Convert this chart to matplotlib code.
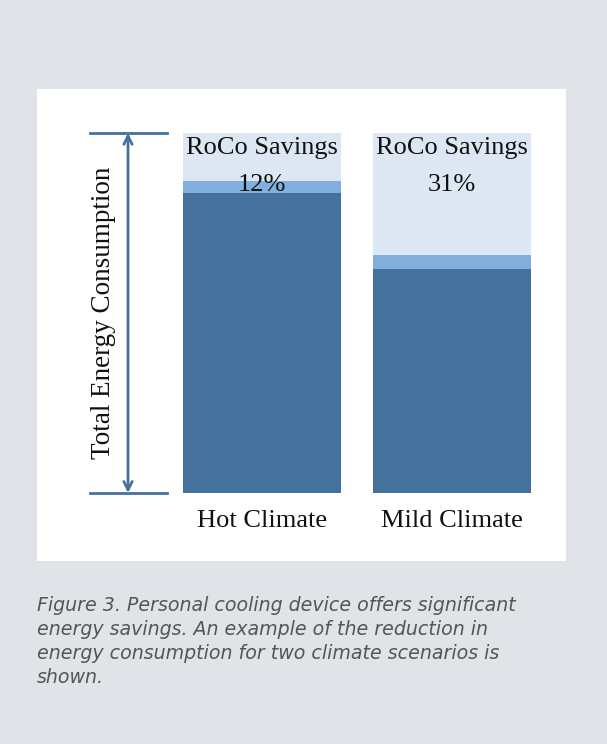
import matplotlib
matplotlib.use("Agg")
import matplotlib.pyplot as plt

# data (percent of total energy consumption)
climates = ["Hot Climate", "Mild Climate"]
base_use = [83.4, 62.2]        # dark part
device_use = [3.3, 3.9]        # thin mid-blue band (cooling device)
savings = [12, 31]             # label values
total = [100, 100]

dark = "#44729d"
mid = "#82b0de"
light = "#dce7f3"
bg = "#e0e4e8"

W, H = 607, 744
fig = plt.figure(figsize=(W / 100, H / 100), dpi=100)
fig.patch.set_facecolor(bg)

# white panel as the axes
left, right, top, bottom = 37, 566, 89, 561
ax = fig.add_axes([left / W, 1 - bottom / H, (right - left) / W, (bottom - top) / H])
ax.set_facecolor("white")
for s in ax.spines.values():
    s.set_visible(False)
ax.set_xticks([])
ax.set_yticks([])
ax.set_xlim(-1.184, 1.6)
ax.set_ylim(-18.9, 112.2)

x = list(range(len(climates)))
bw = 0.832
rest = [t - b - d for t, b, d in zip(total, base_use, device_use)]
ax.bar(x, base_use, width=bw, color=dark, linewidth=0)
ax.bar(x, device_use, width=bw, bottom=base_use, color=mid, linewidth=0)
ax.bar(x, rest, width=bw, bottom=[b + d for b, d in zip(base_use, device_use)],
       color=light, linewidth=0)

serif = "Liberation Serif"
for i, s in enumerate(savings):
    ax.text(i, 94.2, "RoCo Savings", ha="center", va="baseline",
            fontsize=19, family=serif, color="#111111")
    ax.text(i, 83.9, "%d%%" % s, ha="center", va="baseline",
            fontsize=19, family=serif, color="#111111")
    ax.text(i, -9.4, climates[i], ha="center", va="baseline",
            fontsize=19, family=serif, color="#111111")

# double arrow showing total consumption
ax.plot([-0.905, -0.5], [100, 100], color=dark, lw=2)
ax.plot([-0.905, -0.5], [0, 0], color=dark, lw=2)
ax.annotate("", xy=(-0.705, 100), xytext=(-0.705, 0),
            arrowprops=dict(arrowstyle="<->,head_length=0.6,head_width=0.3",
                            color=dark, lw=2, shrinkA=0, shrinkB=0))
ax.text(-0.833, 50, "Total Energy Consumption", rotation=90, ha="center", va="center",
        fontsize=19.5, family=serif, color="#111111")

caption = ["Figure 3. Personal cooling device offers significant",
           "energy savings. An example of the reduction in",
           "energy consumption for two climate scenarios is",
           "shown."]
for k, line in enumerate(caption):
    fig.text(37 / W, 1 - (611 + 24 * k) / H, line, ha="left", va="baseline",
             fontsize=13.7, family="DejaVu Sans", style="italic", color="#555555")

fig.savefig("out.png", dpi=100, facecolor=bg)
